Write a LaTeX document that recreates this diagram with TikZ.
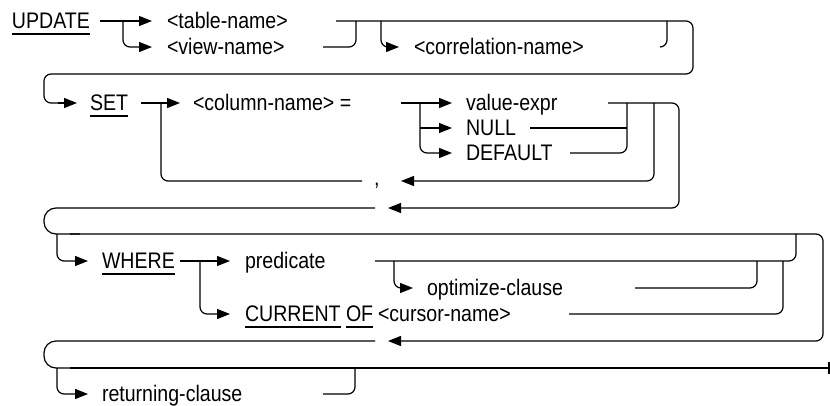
\documentclass[tikz,border=0pt]{standalone}
\usepackage{fontspec}
\setmainfont{Liberation Sans}[FakeStretch=0.87]
\usetikzlibrary{arrows.meta}
\tikzset{
  rail/.style={line width=1.2pt, rounded corners=7pt},
  railarrow/.style={rail, -{Triangle[length=13pt,width=10pt]}},
  bracket/.style={line width=1.2pt, rounded corners=12pt},
  lbl/.style={anchor=west, inner sep=0pt, outer sep=0pt, text height=15pt, text depth=0pt,
              font=\fontsize{22.5}{26}\selectfont},
  uline/.style={line width=1.1pt},
}
\newcommand{\ulnode}[1]{\draw[uline] ([yshift=-5.5pt]#1.south west) -- ([yshift=-5.5pt]#1.south east);}
\begin{document}
\begin{tikzpicture}[x=1pt,y=-1pt]
\useasboundingbox (0,0) rectangle (830,406);
% ---------- labels ----------
\node[lbl] (upd) at (12,21) {UPDATE};
\node[lbl] (tbl) at (167,21) {<table-name>};
\node[lbl] (viw) at (167,47) {<view-name>};
\node[lbl] (cor) at (414,47) {<correlation-name>};
\node[lbl] (set) at (90,103) {SET};
\node[lbl] (col) at (193,103) {<column-name> =};
\node[lbl] (val) at (466,103) {value-expr};
\node[lbl] (nul) at (466,128) {NULL};
\node[lbl] (dft) at (466,153) {DEFAULT};
\node[lbl] (cma) at (374,178) {,};
\node[lbl] (whr) at (102,261) {WHERE};
\node[lbl] (prd) at (245,261) {predicate};
\node[lbl] (opt) at (427,288) {optimize-clause};
\node[lbl] (cur) at (245,314) {CURRENT};
\node[lbl] (of)  at (346,314) {OF};
\node[lbl] (csr) at (378,314) {<cursor-name>};
\node[lbl] (ret) at (102,394) {returning-clause};
\ulnode{upd}
\ulnode{set}
\ulnode{whr}
\ulnode{cur}
\ulnode{of}
% ---------- row 1 ----------
\draw[railarrow] (100,21) -- (152,21);
\draw[railarrow] (123,21) -- (123,47) -- (152,47);
\draw[rail] (323,47) -- (356,47) -- (356,21);
\draw[railarrow] (381,21) -- (381,47) -- (399,47);
\draw[rail] (660,47) -- (667,47) -- (667,21);
\draw[rail] (336,21) -- (693,21) -- (693,74) -- (44,74) -- (44,103) -- (60,103);
\draw[railarrow] (58,103) -- (77,103);
% ---------- row 2 ----------
\draw[railarrow] (141,103) -- (180,103);
\draw[railarrow] (401,103) -- (452,103);
\draw[railarrow] (420,103) -- (420,153) -- (452,153);
\draw[railarrow] (420,128) -- (452,128);
\draw[rail] (530,128) -- (627,128);
\draw[rail] (570,153) -- (627,153) -- (627,103);
\draw[railarrow] (654,103) -- (654,181) -- (401,181);
\draw[rail] (362,181) -- (161,181) -- (161,103);
\draw[railarrow] (608,103) -- (679,103) -- (679,208) -- (388,208);
% ---------- row 3 ----------
\draw[bracket] (375,208) -- (44,208) -- (44,234) -- (80,234);
\draw[railarrow] (70,234) -- (823,234) -- (823,341) -- (388,341);
\draw[railarrow] (57,234) -- (57,261) -- (88,261);
\draw[railarrow] (180,261) -- (230,261);
\draw[railarrow] (200,261) -- (200,314) -- (230,314);
\draw[rail] (375,261) -- (796,261) -- (796,234);
\draw[railarrow] (394,261) -- (394,288) -- (413,288);
\draw[rail] (635,288) -- (757,288) -- (757,261);
\draw[rail] (569,314) -- (783,314) -- (783,261);
% ---------- row 4 ----------
\draw[bracket] (375,341) -- (44,341) -- (44,368) -- (80,368);
\draw[rail] (70,368) -- (829,368);
\draw[line width=1.6pt] (829,362) -- (829,374);
\draw[railarrow] (57,368) -- (57,394) -- (88,394);
\draw[rail] (323,394) -- (355,394) -- (355,368);
\end{tikzpicture}
\end{document}
